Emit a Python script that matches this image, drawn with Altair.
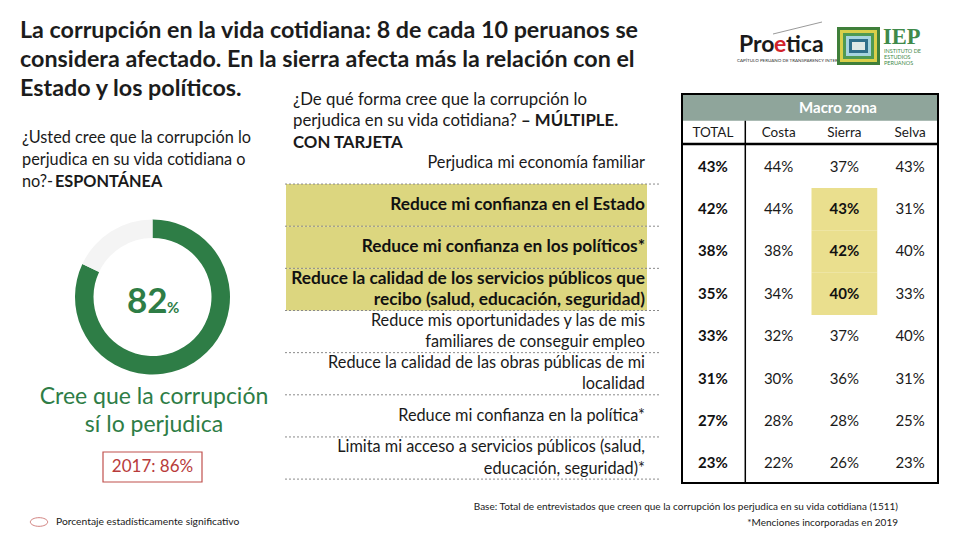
import altair as alt
import pandas as pd

FONT = "Lato"
GREEN = "#2e7d46"
RED = "#b83b3b"
OFF = 8  # page margin: reference pixel -> plot pixel

# ---------------- data ----------------
labels = [
    "Perjudica mi economía familiar",
    "Reduce mi confianza en el Estado",
    "Reduce mi confianza en los políticos*",
    "Reduce la calidad de los servicios públicos que\nrecibo (salud, educación, seguridad)",
    "Reduce mis oportunidades y las de mis\nfamiliares de conseguir empleo",
    "Reduce la calidad de las obras públicas de mi\nlocalidad",
    "Reduce mi confianza en la política*",
    "Limita mi acceso a servicios públicos (salud,\neducación, seguridad)*",
]
highlight = [False, True, True, True, False, False, False, False]
columns = ["TOTAL", "Costa", "Sierra", "Selva"]
total = [43, 42, 38, 35, 33, 31, 27, 23]
costa = [44, 44, 38, 34, 32, 30, 28, 22]
sierra = [37, 43, 42, 40, 37, 36, 28, 26]
selva = [43, 31, 40, 33, 40, 31, 25, 23]
sierra_sig = [False, True, True, True, False, False, False, False]

donut_cat = ["Sí lo perjudica", "No"]
donut_val = [82, 18]
donut_order = [0, 1]

# ---------------- tables ----------------
one = pd.DataFrame({"k": [0]})
rows_df = pd.DataFrame({"row": labels, "hl": highlight, "ml": ["\n" in s for s in labels]})
series = {"TOTAL": total, "Costa": costa, "Sierra": sierra, "Selva": selva}
recs = []
for c in columns:
    for i, r in enumerate(labels):
        v = series[c][i]
        sig = (c == "Sierra") and sierra_sig[i]
        recs.append({"row": r, "col": c, "txt": f"{v}%", "bold": (c == "TOTAL") or sig, "sig": sig})
cells = pd.DataFrame(recs)
cols_df = pd.DataFrame({"col": columns})
donut_df = pd.DataFrame({"cat": donut_cat, "v": donut_val, "o": donut_order})

label_y = alt.Scale(domain=labels, range=[141.9 - OFF, 479.1 - OFF], paddingInner=0, paddingOuter=0)
value_y = alt.Scale(domain=labels, range=[145.5 - OFF, 484.5 - OFF], paddingInner=0, paddingOuter=0)
col_x = alt.Scale(domain=columns, range=[680 - OFF, 943 - OFF], paddingInner=0, paddingOuter=0)


def txt(s, x, y, size, color="#1a1a1a", weight="normal", align="left", baseline="middle", font=FONT):
    return alt.Chart(one).mark_text(
        text=s, align=align, baseline=baseline, fontSize=size, fontWeight=weight, color=color, font=font
    ).encode(x=alt.value(x - OFF), y=alt.value(y - OFF))


def box(x1, x2, y1, y2, fill="transparent", stroke=None, sw=0):
    kw = dict(fill=fill)
    if stroke:
        kw.update(stroke=stroke, strokeWidth=sw)
    return alt.Chart(one).mark_rect(**kw).encode(
        x=alt.value(x1 - OFF), x2=alt.value(x2 - OFF), y=alt.value(y1 - OFF), y2=alt.value(y2 - OFF)
    )


def hline(x1, x2, y, color="black", sw=1):
    return alt.Chart(one).mark_rule(color=color, strokeWidth=sw).encode(
        x=alt.value(x1 - OFF), x2=alt.value(x2 - OFF), y=alt.value(y - OFF)
    )


def vline(x, y1, y2, color="black", sw=1):
    return alt.Chart(one).mark_rule(color=color, strokeWidth=sw).encode(
        x=alt.value(x - OFF), y=alt.value(y1 - OFF), y2=alt.value(y2 - OFF)
    )


layers = []

# titles
title_lines = [
    "La corrupción en la vida cotidiana: 8 de cada 10 peruanos se",
    "considera afectado. En la sierra afecta más la relación con el",
    "Estado y los políticos.",
]
for i, t in enumerate(title_lines):
    layers.append(txt(t, 20, 31 + i * 29, 23.3, weight="bold", color="#1c1c1c"))

# left question
layers.append(txt("¿Usted cree que la corrupción lo", 22, 138, 16.3))
layers.append(txt("perjudica en su vida cotidiana o", 22, 160, 16.3))
layers.append(txt("no?- ", 22, 182, 16.3))
layers.append(txt("ESPONTÁNEA", 55, 182, 16.3, weight="bold"))

# donut
donut = alt.Chart(donut_df).mark_arc(innerRadius=59, outerRadius=77.5).encode(
    theta=alt.Theta("v:Q", stack=True),
    order=alt.Order("o:Q"),
    color=alt.Color("cat:N", scale=alt.Scale(domain=donut_cat, range=[GREEN, "#f4f4f4"]), legend=None),
    x=alt.value(152.5 - OFF),
    y=alt.value(297 - OFF),
)
layers.append(donut)
layers.append(txt("82", 127, 313, 35, color=GREEN, weight="bold", baseline="alphabetic"))
layers.append(txt("%", 167, 313, 15, color=GREEN, weight="bold", baseline="alphabetic"))
layers.append(txt("Cree que la corrupción", 154, 397, 23, color=GREEN, align="center"))
layers.append(txt("sí lo perjudica", 154, 425, 23, color=GREEN, align="center"))
layers.append(box(103, 202, 452, 482, fill="white", stroke="#c0504d", sw=1.2))
layers.append(txt("2017: 86%", 152.5, 467, 17, color=RED, align="center"))

# legend
ellipse = "M-1,0A1,0.5,0,1,1,1,0A1,0.5,0,1,1,-1,0Z"
layers.append(alt.Chart(one).mark_point(shape=ellipse, size=300, filled=False, color="#c0504d", strokeWidth=1).encode(
    x=alt.value(39 - OFF), y=alt.value(522 - OFF)))
layers.append(txt("Porcentaje estadísticamente significativo", 56, 522, 10.3))

# middle question
layers.append(txt("¿De qué forma cree que la corrupción lo", 293, 100, 16.8))
layers.append(txt("perjudica en su vida cotidiana? ", 293, 121, 16.8))
layers.append(txt("– MÚLTIPLE.", 521, 121, 16.8, weight="bold"))
layers.append(txt("CON TARJETA", 293, 143, 16.8, weight="bold"))

# label highlight + separators + labels
layers.append(alt.Chart(rows_df).transform_filter("datum.hl").mark_rect(color="#dcd67f").encode(
    x=alt.value(286 - OFF), x2=alt.value(647 - OFF),
    y=alt.Y("row:N", scale=label_y, axis=None),
))
layers.append(alt.Chart(rows_df).mark_rule(color="#8a8a8a", strokeDash=[2, 2], strokeWidth=1).encode(
    x=alt.value(285 - OFF), x2=alt.value(660 - OFF),
    y=alt.Y("row:N", scale=label_y, axis=None, bandPosition=1),
))
for hl in (False, True):
    for ml in (False, True):
        flt = ("datum.hl" if hl else "!datum.hl") + " && " + ("datum.ml" if ml else "!datum.ml")
        layers.append(alt.Chart(rows_df).transform_filter(flt).mark_text(
            align="right", baseline="middle", fontSize=17.3 if hl else 16.3, font=FONT,
            fontWeight="bold" if hl else "normal", lineBreak="\n", lineHeight=21.5,
            dy=-10.75 if ml else 0, color="#111" if hl else "#1a1a1a",
        ).encode(x=alt.value(645 - OFF), y=alt.Y("row:N", scale=label_y, axis=None), text="row:N"))

# table
layers.append(box(682, 938, 94, 120.7, fill="#8fa59b"))
layers.append(txt("Macro zona", 838, 108, 15, color="white", weight="bold", align="center"))
layers.append(alt.Chart(cells).transform_filter("datum.sig").mark_rect(color="#eadf8e").encode(
    x=alt.X("col:N", scale=col_x, axis=None),
    y=alt.Y("row:N", scale=value_y, axis=None),
))
layers.append(alt.Chart(cols_df).mark_text(fontSize=13.5, font=FONT, baseline="middle", color="#1a1a1a").encode(
    x=alt.X("col:N", scale=col_x, axis=None), y=alt.value(132.7 - OFF), text="col:N"))
layers.append(alt.Chart(cells).transform_filter("!datum.bold").mark_text(
    fontSize=15, font=FONT, baseline="middle", color="#1a1a1a").encode(
    x=alt.X("col:N", scale=col_x, axis=None), y=alt.Y("row:N", scale=value_y, axis=None), text="txt:N"))
layers.append(alt.Chart(cells).transform_filter("datum.bold").mark_text(
    fontSize=15, font=FONT, fontWeight="bold", baseline="middle", color="#111").encode(
    x=alt.X("col:N", scale=col_x, axis=None), y=alt.Y("row:N", scale=value_y, axis=None), text="txt:N"))
layers.append(hline(682, 938, 144, sw=2.5))
layers.append(vline(745.3, 120.7, 483, sw=1.5))
layers.append(box(682, 938, 94, 483, fill="transparent", stroke="black", sw=2))

# footnotes
layers.append(txt("Base: Total de entrevistados que creen que la corrupción los perjudica en su vida cotidiana (1511)",
                  898, 507, 10, align="right"))
layers.append(txt("*Menciones incorporadas en 2019", 898, 523, 10, align="right"))

# logos
layers.append(alt.Chart(one).mark_rule(color="#9a9a9a", strokeWidth=1).encode(
    x=alt.value(773 - OFF), x2=alt.value(822 - OFF), y=alt.value(34 - OFF), y2=alt.value(22 - OFF)))
layers.append(txt("Pro", 739, 45, 23, color="#1a1a1a", weight="bold"))
layers.append(txt("e", 774, 45, 23, color="#d2232a", weight="bold"))
layers.append(txt("tica", 786, 45, 23, color="#1a1a1a", weight="bold"))
layers.append(txt("CAPÍTULO PERUANO DE  TRANSPARENCY INTERNATIONAL", 737, 61, 4.5, color="#333"))
for (a, b, c, d, col) in [
    (837, 880, 27, 65, "#3f7f3a"),
    (840, 877, 30, 62, "#d9cf4a"),
    (843, 874, 33, 59, "#4f9a52"),
    (846, 871, 36, 56, "#a6d4df"),
    (849, 868, 39, 53, "#2f6f8a"),
    (852, 865, 42, 50, "#dfe9e6"),
]:
    layers.append(box(a, b, c, d, fill=col))
layers.append(txt("IEP", 883, 43.5, 22.5, color="#3f8a4a", weight="bold", font="Liberation Serif", baseline="alphabetic"))
layers.append(txt("INSTITUTO DE", 884, 51, 5.5, color="#3f8a4a"))
layers.append(txt("ESTUDIOS", 884, 57, 5.5, color="#3f8a4a"))
layers.append(txt("PERUANOS", 884, 63, 5.5, color="#3f8a4a"))

chart = alt.layer(*layers).resolve_scale(
    x="independent", y="independent", color="independent", theta="independent"
).properties(
    width=944, height=524, padding=0, autosize=alt.AutoSizeParams(type="none"),
    background="white",
).configure_view(stroke=None)

chart.save("out.html", embed_options={"renderer": "svg", "actions": False})
